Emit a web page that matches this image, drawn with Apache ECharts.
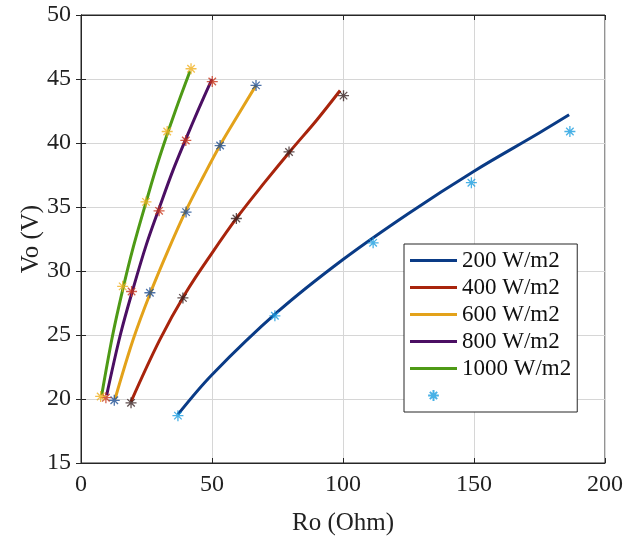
<!DOCTYPE html>
<html><head><meta charset="utf-8">
<script src="https://cdn.jsdelivr.net/npm/echarts@6/dist/echarts.min.js"></script>
<style>html,body{margin:0;padding:0;background:#fff}#c{width:624px;height:538px}</style>
</head><body><div id="c"></div>
<script>
const xTicks = [0, 50, 100, 150, 200];
const yTicks = [15, 20, 25, 30, 35, 40, 45, 50];
const seriesNames = ['200 W/m2', '400 W/m2', '600 W/m2', '800 W/m2', '1000 W/m2'];

// curves
const curveR200 = [37, 50, 75, 100, 125, 150, 175, 186.3];
const curveV200 = [18.8, 21.9, 26.8, 30.9, 34.5, 37.8, 40.8, 42.2];
const curveR400 = [19.1, 30, 40, 50, 60, 70, 80, 90, 98.9];
const curveV400 = [19.8, 24.6, 28.3, 31.4, 34.3, 36.9, 39.4, 41.8, 44.1];
const curveR600 = [13, 20, 26.5, 33, 40, 47, 53.3, 60, 66.8];
const curveV600 = [20.0, 24.7, 28.3, 31.5, 34.7, 37.5, 39.9, 42.2, 44.5];
const curveR800 = [9.8, 15, 20, 25, 30, 35, 40, 45, 50];
const curveV800 = [20.3, 25.0, 28.7, 32.1, 35.0, 37.8, 40.3, 42.7, 45.0];
const curveR1000 = [7.9, 12, 16, 20, 25, 30, 36, 41.6];
const curveV1000 = [20.3, 24.9, 28.6, 31.9, 35.5, 38.9, 42.5, 45.6];

// measured points (stars)
const starR200 = [37, 74, 111.5, 149, 186.6];
const starV200 = [18.7, 26.5, 32.2, 36.9, 40.9];
const starR400 = [19.1, 38.9, 59.3, 79.4, 100.2];
const starV400 = [19.7, 27.9, 34.1, 39.3, 43.7];
const starR600 = [12.7, 26.3, 40.1, 53.1, 66.8];
const starV600 = [19.9, 28.3, 34.6, 39.8, 44.5];
const starR800 = [9.5, 19.3, 29.8, 40.0, 50.1];
const starV800 = [20.1, 28.4, 34.7, 40.2, 44.8];
const starR1000 = [7.5, 15.9, 24.8, 32.9, 42.0];
const starV1000 = [20.2, 28.8, 35.4, 40.9, 45.8];

const lineColors = ['#0a3b86', '#a8240c', '#e3a21a', '#4b0f63', '#4e9a16'];
const starColors = ['#1a9ee0', '#3a2424', '#1e4f94', '#c8361a', '#f0b020'];

const curvesR = [curveR200, curveR400, curveR600, curveR800, curveR1000];
const curvesV = [curveV200, curveV400, curveV600, curveV800, curveV1000];
const starsR = [starR200, starR400, starR600, starR800, starR1000];
const starsV = [starV200, starV400, starV600, starV800, starV1000];

const FONT = 'Liberation Serif';
const STAR = 'path://M5,0L5,10M0,5L10,5M1.6,1.6L8.4,8.4M1.6,8.4L8.4,1.6';
const LEG_STAR = 'path://M-1.5,-1.5L-1.5,-1.5M11.5,11.5L11.5,11.5M5,0L5,10M0,5L10,5M1.6,1.6L8.4,8.4M1.6,8.4L8.4,1.6';
const BAR = 'path://M0,0L48,0L48,3L0,3Z';
const zip = (a, b) => a.map((x, i) => [x, b[i]]);

const series = [];
for (let i = 0; i < 5; i++) {
  series.push({
    name: seriesNames[i], type: 'line', smooth: 0.35, symbol: 'none',
    data: zip(curvesR[i], curvesV[i]),
    lineStyle: { color: lineColors[i], width: 3 },
    itemStyle: { color: lineColors[i] }, z: 3
  });
}
for (let i = 0; i < 5; i++) {
  series.push({
    name: i === 0 ? ' ' : 'pts' + i, type: 'scatter', symbol: STAR, symbolSize: 11,
    data: zip(starsR[i], starsV[i]),
    itemStyle: { color: 'rgba(0,0,0,0)', borderColor: starColors[i], borderWidth: 1.3 },
    z: 4
  });
}

const legendData = seriesNames.map((n, i) => ({ name: n, icon: BAR, itemStyle: { color: lineColors[i] } }));
legendData.push({ name: ' ', icon: LEG_STAR });

const chart = echarts.init(document.getElementById('c'));
chart.setOption({
  animation: false,
  backgroundColor: '#fff',
  textStyle: { fontFamily: FONT },
  grid: { left: 81, right: 19, top: 15, bottom: 75, containLabel: false, outerBoundsMode: 'none',
          show: true, borderColor: '#262626', borderWidth: 1 },
  legend: {
    orient: 'vertical', left: 404, top: 244,
    data: legendData,
    backgroundColor: '#fff', borderColor: '#262626', borderWidth: 1,
    padding: [5, 6, 5, 6], itemWidth: 47, itemHeight: 14, itemGap: 4,
    textStyle: { fontFamily: FONT, fontSize: 23, color: '#111' },
    selectedMode: false
  },
  xAxis: [{
    type: 'value', min: xTicks[0], max: xTicks[xTicks.length - 1], interval: 50,
    name: 'Ro (Ohm)', nameLocation: 'middle', nameGap: 48, nameMoveOverlap: false,
    nameTextStyle: { fontFamily: FONT, fontSize: 25, color: '#222' },
    axisLine: { show: true, lineStyle: { color: '#262626' } },
    axisTick: { inside: true, length: 5, lineStyle: { color: '#262626' } },
    axisLabel: { fontFamily: FONT, fontSize: 24, color: '#222', margin: 10 },
    splitLine: { show: true, lineStyle: { color: '#d6d6d6', width: 1 } }
  }, {
    type: 'value', position: 'top', min: 0, max: 200, interval: 50,
    axisLine: { show: true, lineStyle: { color: '#262626' } },
    axisTick: { inside: true, length: 5, lineStyle: { color: '#262626' } },
    axisLabel: { show: false }, splitLine: { show: false }
  }],
  yAxis: [{
    type: 'value', min: yTicks[0], max: yTicks[yTicks.length - 1], interval: 5,
    name: 'Vo (V)', nameLocation: 'middle', nameGap: 37, nameMoveOverlap: false,
    nameTextStyle: { fontFamily: FONT, fontSize: 25, color: '#222' },
    axisLine: { show: true, lineStyle: { color: '#262626' } },
    axisTick: { inside: true, length: 5, lineStyle: { color: '#262626' } },
    axisLabel: { fontFamily: FONT, fontSize: 24, color: '#222', margin: 10 },
    splitLine: { show: true, lineStyle: { color: '#d6d6d6', width: 1 } }
  }, {
    type: 'value', position: 'right', min: 15, max: 50, interval: 5,
    axisLine: { show: true, lineStyle: { color: '#262626' } },
    axisTick: { inside: true, length: 5, lineStyle: { color: '#262626' } },
    axisLabel: { show: false }, splitLine: { show: false }
  }],
  series: series
});
</script></body></html>
